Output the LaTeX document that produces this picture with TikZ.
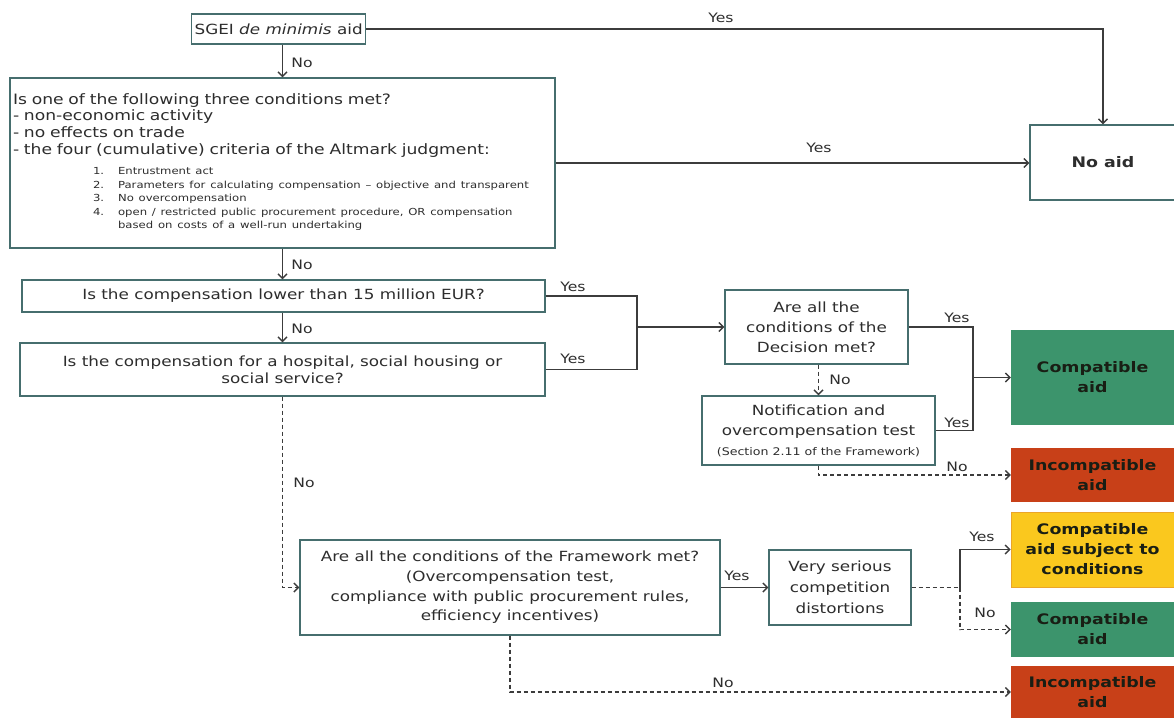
\documentclass[tikz,border=0pt]{standalone}
\usepackage{fontspec}
\setmainfont{DejaVu Sans}[FakeStretch=1.2]
\usetikzlibrary{arrows.meta}
\definecolor{bordc}{RGB}{70,110,110}
\definecolor{linec}{RGB}{60,60,60}
\definecolor{txtc}{RGB}{45,45,45}
\definecolor{greenc}{RGB}{60,148,108}
\definecolor{redc}{RGB}{200,64,24}
\definecolor{yellowc}{RGB}{250,200,30}
\definecolor{yellowb}{RGB}{235,165,40}
\definecolor{darktxt}{RGB}{25,30,20}
\begin{document}
\begin{tikzpicture}[x=1pt,y=-1pt,
  box/.style={draw=bordc, line width=1.3pt, fill=white, text=txtc, inner sep=0pt, align=center, font=\fontsize{14}{20}\selectfont},
  res/.style={inner sep=0pt, align=center, text=darktxt, font=\fontsize{14.5}{20}\selectfont\bfseries, minimum width=163pt},
  conn/.style={draw=linec, line width=1.4pt},
  arr/.style={conn, -{Straight Barb[length=4.5pt,width=9pt]}},
  dsh/.style={dash pattern=on 4pt off 3pt},
  lbl/.style={text=txtc, font=\fontsize{13}{15}\selectfont, inner sep=0pt},
]
\useasboundingbox (0,0) rectangle (1174,718);

% boxes
\node[box, inner xsep=3pt, minimum height=30pt, anchor=west] (sgei) at (191,29) {SGEI \textit{de minimis} aid};
\node[box, minimum width=545pt, minimum height=170pt, align=left, text width=539pt,
      font=\fontsize{14.3}{16.7}\selectfont] (q1) at (282.5,163) {%
Is one of the following three conditions met?\\
- non-economic activity\\
- no effects on trade\\
- the four (cumulative) criteria of the Altmark judgment:\\[4pt]
{\fontsize{9.7}{13.5}\selectfont\hspace*{80pt}\begin{tabular}[t]{@{}l@{\hspace{14pt}}l@{}}
1. & Entrustment act\\
2. & Parameters for calculating compensation -- objective and transparent\\
3. & No overcompensation\\
4. & open / restricted public procurement procedure, OR compensation\\
   & based on costs of a well-run undertaking
\end{tabular}}};
\node[box, minimum width=146pt, minimum height=75pt, font=\fontsize{14.5}{20}\selectfont\bfseries] (noaid) at (1103,162.5) {No aid};
\node[box, minimum width=523pt, minimum height=32pt] (q3) at (283.5,296) {Is the compensation lower than 15 million EUR?};
\node[box, minimum width=525pt, minimum height=53pt, font=\fontsize{14}{17}\selectfont] (q4) at (282.5,369.5) {Is the compensation for a hospital, social housing or\\ social service?};
\node[box, minimum width=183pt, minimum height=74pt] (q5) at (816.5,327) {Are all the\\ conditions of the\\ Decision met?};
\node[box, minimum width=233pt, minimum height=69pt] (q6) at (818.5,430.5) {Notification and\\ overcompensation test\\ {\fontsize{10.5}{10}\selectfont (Section 2.11 of the Framework)}};
\node[box, minimum width=420pt, minimum height=95pt, font=\fontsize{14}{19.7}\selectfont] (q7) at (510,587.5) {Are all the conditions of the Framework met?\\ (Overcompensation test,\\ compliance with public procurement rules,\\ efficiency incentives)};
\node[box, minimum width=142pt, minimum height=75pt, font=\fontsize{14}{21}\selectfont] (q8) at (840,587.5) {Very serious\\ competition\\ distortions};

\node[res, fill=greenc, minimum height=95pt] (comp1) at (1092.5,377.5) {Compatible\\ aid};
\node[res, fill=redc, minimum height=54pt] (incomp1) at (1092.5,475) {Incompatible\\ aid};
\node[res, fill=yellowc, draw=yellowb, line width=1pt, minimum height=75pt] (yellow) at (1092.5,549.5) {Compatible\\ aid subject to\\ conditions};
\node[res, fill=greenc, minimum height=55pt] (comp2) at (1092.5,629.5) {Compatible\\ aid};
\node[res, fill=redc, minimum height=52pt] (incomp2) at (1092.5,692) {Incompatible\\ aid};

% junctions
\coordinate (j1) at (637,327);
\coordinate (j2) at (973,377.5);
\coordinate (j3) at (960,587.5);

% connectors
\draw[arr] (sgei.east) -| (noaid.north);
\draw[arr] (q1.east) -- (q1.east -| noaid.west);
\draw[arr] (q1.north |- sgei.south) -- (q1.north);
\draw[arr] (q1.south) -- (q1.south |- q3.north);
\draw[arr] (q3.south -| q4.north) -- (q4.north);
\draw[conn] (q3.east) -| (j1);
\draw[conn] (q4.east) -| (j1);
\draw[arr] (j1) -- (q5.west);
\draw[conn] (q5.east) -| (j2);
\draw[conn] (q6.east) -| (j2);
\draw[arr] (j2) -- (comp1.west);
\draw[arr,dsh] (q6.north |- q5.south) -- (q6.north);
\draw[arr,dsh] (q6.south) |- (incomp1.west);
\draw[arr,dsh] (q4.south) |- (q7.west);
\draw[arr] (q7.east) -- (q8.west);
\draw[conn,dsh] (q8.east) -- (j3);
\draw[arr] (j3) |- (yellow.west);
\draw[arr,dsh] (j3) |- (comp2.west);
\draw[arr,dsh] (q7.south) |- (incomp2.west);

% labels
\node[lbl] (l1) at (721,18) {Yes};
\node[lbl] (l2) at (819,148) {Yes};
\node[lbl] (l3) at (302,63) {No};
\node[lbl] (l4) at (302,265) {No};
\node[lbl] (l5) at (302,329) {No};
\node[lbl] (l6) at (573,287) {Yes};
\node[lbl] (l7) at (573,359) {Yes};
\node[lbl] (l8) at (957,318) {Yes};
\node[lbl] (l9) at (957,423) {Yes};
\node[lbl] (l10) at (840,380) {No};
\node[lbl] (l11) at (957,467) {No};
\node[lbl] (l12) at (304,483) {No};
\node[lbl] (l13) at (737,576) {Yes};
\node[lbl] (l14) at (723,683) {No};
\node[lbl] (l15) at (982,537) {Yes};
\node[lbl] (l16) at (985,613) {No};
\end{tikzpicture}
\end{document}
